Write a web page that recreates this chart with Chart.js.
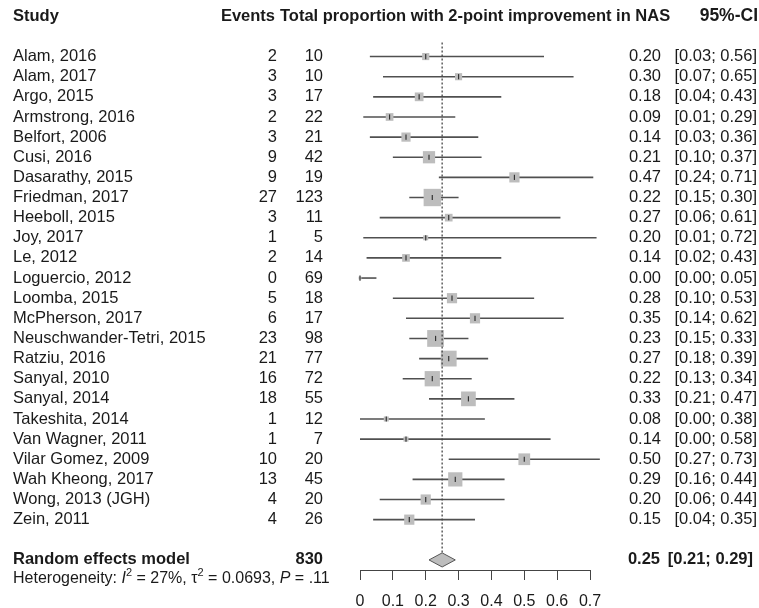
<!DOCTYPE html>
<html>
<head>
<meta charset="utf-8">
<title>Forest plot</title>
<script src="https://cdn.jsdelivr.net/npm/chart.js@4.4.1/dist/chart.umd.min.js"></script>
<style>
  html, body { margin: 0; padding: 0; background: #fff; }
</style>
</head>
<body>
<canvas id="forest" width="759" height="608"></canvas>
<script>
const studies = ['Alam, 2016', 'Alam, 2017', 'Argo, 2015', 'Armstrong, 2016', 'Belfort, 2006', 'Cusi, 2016',
  'Dasarathy, 2015', 'Friedman, 2017', 'Heeboll, 2015', 'Joy, 2017', 'Le, 2012', 'Loguercio, 2012',
  'Loomba, 2015', 'McPherson, 2017', 'Neuschwander-Tetri, 2015', 'Ratziu, 2016', 'Sanyal, 2010',
  'Sanyal, 2014', 'Takeshita, 2014', 'Van Wagner, 2011', 'Vilar Gomez, 2009', 'Wah Kheong, 2017',
  'Wong, 2013 (JGH)', 'Zein, 2011'];
const events = [2, 3, 3, 2, 3, 9, 9, 27, 3, 1, 2, 0, 5, 6, 23, 21, 16, 18, 1, 1, 10, 13, 4, 4];
const totals = [10, 10, 17, 22, 21, 42, 19, 123, 11, 5, 14, 69, 18, 17, 98, 77, 72, 55, 12, 7, 20, 45, 20, 26];
const props = [0.20, 0.30, 0.18, 0.09, 0.14, 0.21, 0.47, 0.22, 0.27, 0.20, 0.14, 0.00, 0.28, 0.35, 0.23, 0.27,
  0.22, 0.33, 0.08, 0.14, 0.50, 0.29, 0.20, 0.15];
const ciLow = [0.03, 0.07, 0.04, 0.01, 0.03, 0.10, 0.24, 0.15, 0.06, 0.01, 0.02, 0.00, 0.10, 0.14, 0.15, 0.18,
  0.13, 0.21, 0.00, 0.00, 0.27, 0.16, 0.06, 0.04];
const ciHigh = [0.56, 0.65, 0.43, 0.29, 0.36, 0.37, 0.71, 0.30, 0.61, 0.72, 0.43, 0.05, 0.53, 0.62, 0.33, 0.39,
  0.34, 0.47, 0.38, 0.58, 0.73, 0.44, 0.44, 0.35];
// random-effects weights, %
const weights = [1.8, 1.8, 2.7, 2.1, 3.0, 5.3, 3.7, 10.7, 2.1, 0.9, 2.1, 0.3, 3.7, 3.7, 10.0, 8.9, 8.3, 7.7,
  0.9, 0.9, 4.9, 7.2, 3.7, 3.7];

const pooledTotal = 830;
const pooledEst = 0.25;
const pooledLow = 0.21;
const pooledHigh = 0.29;
const xTicks = [0, 0.1, 0.2, 0.3, 0.4, 0.5, 0.6, 0.7];

const FONT = '"Liberation Sans", Arial, Helvetica, sans-serif';
const INK = '#1a1a1a';
const pooledRow = studies.length + 1;

Chart.defaults.font.family = FONT;

// one short horizontal segment per study for its CI
const ciSets = studies.map((s, i) => ({
  data: [{ x: ciLow[i], y: i }, { x: ciHigh[i], y: i }],
  showLine: true,
  borderColor: '#505050',
  borderWidth: 1.6,
  pointRadius: 0,
  clip: false,
  order: 4
}));

const boxes = {
  data: props.map((p, i) => ({ x: p, y: i })),
  pointStyle: 'rect',
  pointRadius: weights.map(w => Math.sqrt(w) * 3.75),
  backgroundColor: '#bdbdbd',
  borderWidth: 0,
  clip: false,
  order: 3
};

const centres = {
  data: props.map((p, i) => ({ x: p, y: i })),
  pointStyle: 'line',
  rotation: 90,
  pointRadius: 2.6,
  borderColor: '#333',
  borderWidth: 1.2,
  clip: false,
  order: 0
};

const pooledLine = {
  data: [{ x: pooledEst, y: -0.7 }, { x: pooledEst, y: pooledRow - 0.35 }],
  showLine: true,
  borderColor: '#444',
  borderWidth: 1.3,
  borderDash: [2, 2],
  pointRadius: 0,
  order: 1
};

const diamond = {
  data: [
    { x: pooledLow, y: pooledRow },
    { x: pooledEst, y: pooledRow - 0.35 },
    { x: pooledHigh, y: pooledRow },
    { x: pooledEst, y: pooledRow + 0.35 },
    { x: pooledLow, y: pooledRow }
  ],
  showLine: true,
  fill: 'shape',
  backgroundColor: '#bdbdbd',
  borderColor: '#555',
  borderWidth: 1,
  pointRadius: 0,
  tension: 0,
  order: 0
};

// table columns around the plot
const tableText = {
  id: 'tableText',
  afterDraw(chart) {
    const ctx = chart.ctx;
    const y = chart.scales.y;
    const reg = '16.5px ' + FONT;
    const bold = 'bold 16.5px ' + FONT;
    const put = (txt, x, row, align, font) => {
      ctx.font = font;
      ctx.textAlign = align;
      ctx.fillText(txt, x, y.getPixelForValue(row));
    };
    ctx.save();
    ctx.fillStyle = INK;
    ctx.textBaseline = 'middle';

    put('Study', 13, -2, 'left', bold);
    put('Events', 275, -2, 'right', bold);
    put('Total proportion with 2-point improvement in NAS', 280, -2, 'left', bold);
    put('95%-CI', 758, -2, 'right', 'bold 17.5px ' + FONT);

    studies.forEach((s, i) => {
      put(s, 13, i, 'left', reg);
      put(String(events[i]), 277, i, 'right', reg);
      put(String(totals[i]), 323, i, 'right', reg);
      put(props[i].toFixed(2), 661, i, 'right', reg);
      put('[' + ciLow[i].toFixed(2) + '; ' + ciHigh[i].toFixed(2) + ']', 757, i, 'right', reg);
    });

    put('Random effects model', 13, pooledRow, 'left', bold);
    put(String(pooledTotal), 323, pooledRow, 'right', bold);
    put(pooledEst.toFixed(2), 660, pooledRow, 'right', bold);
    put('[' + pooledLow.toFixed(2) + '; ' + pooledHigh.toFixed(2) + ']', 753, pooledRow, 'right', bold);

    // heterogeneity line with italics and superscripts
    const hy = y.getPixelForValue(pooledRow) + 19;
    const parts = [
      ['Heterogeneity: ', '16px ', 0],
      ['I', 'italic 16px ', 0],
      ['2', '11px ', -6],
      [' = 27%, \u03c4', '16px ', 0],
      ['2', '11px ', -6],
      [' = 0.0693, ', '16px ', 0],
      ['P', 'italic 16px ', 0],
      [' = .11', '16px ', 0]
    ];
    let hx = 13;
    ctx.textAlign = 'left';
    parts.forEach(([t, f, dy]) => {
      ctx.font = f + FONT;
      ctx.fillText(t, hx, hy + dy);
      hx += ctx.measureText(t).width;
    });
    ctx.restore();
  }
};

new Chart(document.getElementById('forest'), {
  type: 'scatter',
  data: { datasets: [...ciSets, boxes, centres, pooledLine, diamond] },
  options: {
    responsive: false,
    animation: false,
    devicePixelRatio: 1,
    layout: { padding: { left: 360, right: 169, top: 0, bottom: 0 } },
    plugins: { legend: { display: false }, tooltip: { enabled: false } },
    scales: {
      x: {
        type: 'linear',
        min: 0,
        max: 0.7,
        afterBuildTicks: s => { s.ticks = xTicks.map(v => ({ value: v })); },
        afterFit: s => { s.height = 38; },
        grid: { drawOnChartArea: false, drawTicks: true, tickLength: 10, color: '#444', lineWidth: 1 },
        border: { display: true, color: '#444', width: 1 },
        ticks: { color: INK, font: { size: 16 }, padding: 12, maxRotation: 0, autoSkip: false, callback: v => String(v) }
      },
      y: { type: 'linear', reverse: true, min: -2.2, max: 25.5, display: false }
    }
  },
  plugins: [tableText]
});
</script>
</body>
</html>
